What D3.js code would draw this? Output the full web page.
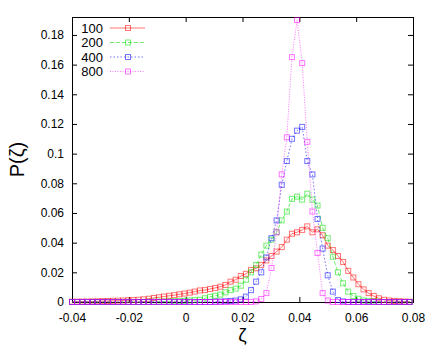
<!DOCTYPE html>
<html>
<head>
<meta charset="utf-8">
<script src="https://cdn.jsdelivr.net/npm/d3@7"></script>
<style>
   body { margin: 0; background: #fff; }
   text { font-family: "Liberation Sans", Arial, sans-serif; fill: #000; }
</style>
</head>
<body>
<div id="chart"></div>
<script>

// BIN CENTRES (ZETA)
var zeta = [
   -0.04, -0.0382, -0.0364, -0.0346, -0.0328, -0.031, -0.0292, -0.0274, -0.0256, -0.0238,
   -0.022, -0.0202, -0.0184, -0.0166, -0.0148, -0.013, -0.0112, -0.0094, -0.0076, -0.0058,
   -0.004, -0.0022, -0.0004, 0.0014, 0.0032, 0.005, 0.0068, 0.0086, 0.0104, 0.0122,
   0.014, 0.0158, 0.0176, 0.0194, 0.0212, 0.023, 0.0248, 0.0266, 0.0284, 0.0302,
   0.032, 0.0338, 0.0356, 0.0374, 0.0392, 0.041, 0.0428, 0.0446, 0.0464, 0.0482,
   0.05, 0.0518, 0.0536, 0.0554, 0.0572, 0.059, 0.0608, 0.0626, 0.0644, 0.0662,
   0.068, 0.0698, 0.0716, 0.0734, 0.0752, 0.077, 0.0788
];

// P(ZETA) FOR EACH SIZE
var p100 = [
   0.0002, 0.0002, 0.0003, 0.0003, 0.0004, 0.0005, 0.0006, 0.0007, 0.0008, 0.0009,
   0.001, 0.0012, 0.0013, 0.0015, 0.0018, 0.0022, 0.0027, 0.0032, 0.0037, 0.0042,
   0.0046, 0.0052, 0.0057, 0.0063, 0.007, 0.0078, 0.008, 0.0088, 0.0095, 0.0103,
   0.0115, 0.0137, 0.015, 0.0175, 0.019, 0.0216, 0.0227, 0.025, 0.028, 0.031,
   0.034, 0.037, 0.042, 0.046, 0.047, 0.0486, 0.051, 0.047, 0.049, 0.045,
   0.038, 0.035, 0.031, 0.027, 0.021, 0.0165, 0.012, 0.0085, 0.006, 0.004,
   0.0025, 0.0015, 0.001, 0.0007, 0.0005, 0.0003, 0.0002
];
var p200 = [
   0, 0, 0, 0, 0, 0, 0, 0, 0, 0,
   0, 0, 0, 0, 0, 0.0002, 0.0002, 0.0003, 0.0003, 0.0004,
   0.0005, 0.0006, 0.0008, 0.001, 0.0012, 0.0015, 0.0025, 0.0035, 0.0042, 0.005,
   0.0065, 0.008, 0.009, 0.011, 0.015, 0.02, 0.025, 0.032, 0.038, 0.042,
   0.047, 0.055, 0.061, 0.0695, 0.071, 0.069, 0.073, 0.069, 0.065, 0.05,
   0.043, 0.0305, 0.02, 0.0126, 0.007, 0.004, 0.0022, 0.001, 0.0006, 0.0004,
   0.0002, 0, 0, 0, 0, 0, 0
];
var p400 = [
   0, 0, 0, 0, 0, 0, 0, 0, 0, 0,
   0, 0, 0, 0, 0, 0, 0, 0, 0, 0,
   0, 0, 0, 0, 0, 0, 0, 0, 0.0002, 0.0003,
   0.0005, 0.0007, 0.001, 0.0018, 0.0036, 0.008, 0.0137, 0.02, 0.03, 0.043,
   0.055, 0.079, 0.095, 0.11, 0.1155, 0.118, 0.095, 0.086, 0.056, 0.036,
   0.018, 0.007, 0.0013, 0.0004, 0, 0, 0, 0, 0, 0,
   0, 0, 0, 0, 0, 0, 0
];
var p800 = [
   0, 0, 0, 0, 0, 0, 0, 0, 0, 0,
   0, 0, 0, 0, 0, 0, 0, 0, 0, 0,
   0, 0, 0, 0, 0, 0, 0, 0, 0, 0,
   0, 0, 0, 0, 0, 0, 0.0004, 0.002, 0.006, 0.023,
   0.047, 0.086, 0.111, 0.165, 0.19, 0.161, 0.108, 0.061, 0.033, 0.006,
   0.001, 0, 0, 0, 0, 0, 0, 0, 0, 0,
   0, 0, 0, 0, 0, 0, 0
];

// LEGEND NAMES AND TICKS
var sizes = ['100', '200', '400', '800'];
var xTicks = [-0.04, -0.02, 0, 0.02, 0.04, 0.06, 0.08];
var xTickLabels = ['-0.04', '-0.02', '0', '0.02', '0.04', '0.06', '0.08'];
var yTicks = [0, 0.02, 0.04, 0.06, 0.08, 0.1, 0.12, 0.14, 0.16, 0.18];
var yTickLabels = ['0', '0.02', '0.04', '0.06', '0.08', '0.1', '0.12', '0.14', '0.16', '0.18'];

var settings = {
   width: 436,
   height: 346,
   left: 72, right: 413, top: 17, bottom: 302,
   xDomain: [-0.04, 0.08],
   yDomain: [0, 0.1921],
   colors: ['#ff0000', '#00e000', '#0000ff', '#ff00ff'],
   dash: ['none', '4,2', '1.5,2', '1,1.5'],
   opacity: 0.55,
   box: 5
};

// BUILD SERIES
var values = [p100, p200, p400, p800];
var series = sizes.map((name, i) => {
   return { name: name, color: settings.colors[i], dash: settings.dash[i],
            points: zeta.map((z, j) => { return [z, values[i][j]] }) };
});

// SCALES
var xScale = d3.scaleLinear().domain(settings.xDomain).range([settings.left, settings.right]);
var yScale = d3.scaleLinear().domain(settings.yDomain).range([settings.bottom, settings.top]);

// CANVAS
var canvas = d3.select('#chart').append('svg')
   .attr('width', settings.width)
   .attr('height', settings.height)
   .style('background', '#fff')

// AXES (TICKS POINT INWARD, MIRRORED ON TOP AND RIGHT)
canvas.append('g')
   .attr('transform', 'translate(' + settings.left + ',0)')
   .call(d3.axisLeft(yScale).tickValues(yTicks).tickSizeInner(-5).tickSizeOuter(0).tickPadding(8)
      .tickFormat((d, i) => yTickLabels[i]))
   .call(g => g.select('.domain').remove())
   .selectAll('text').style('font-size', '12px')

canvas.append('g')
   .attr('transform', 'translate(' + settings.right + ',0)')
   .call(d3.axisRight(yScale).tickValues(yTicks).tickSizeInner(-5).tickSizeOuter(0).tickFormat(''))
   .call(g => g.select('.domain').remove())

canvas.append('g')
   .attr('transform', 'translate(0,' + settings.bottom + ')')
   .call(d3.axisBottom(xScale).tickValues(xTicks).tickSizeInner(-5).tickSizeOuter(0).tickPadding(11)
      .tickFormat((d, i) => xTickLabels[i]))
   .call(g => g.select('.domain').remove())
   .selectAll('text').style('font-size', '12px')

canvas.append('g')
   .attr('transform', 'translate(0,' + settings.top + ')')
   .call(d3.axisTop(xScale).tickValues(xTicks).tickSizeInner(-5).tickSizeOuter(0).tickFormat(''))
   .call(g => g.select('.domain').remove())

canvas.selectAll('.tick line').attr('stroke', '#000')

// FRAME
canvas.append('rect')
   .attr('x', settings.left + 0.5)
   .attr('y', settings.top + 0.5)
   .attr('width', settings.right - settings.left)
   .attr('height', settings.bottom - settings.top)
   .attr('fill', 'none')
   .attr('stroke', '#000')

// AXIS LABELS
canvas.append('text')
   .attr('x', (settings.left + settings.right) / 2)
   .attr('y', 341)
   .attr('text-anchor', 'middle')
   .style('font-size', '19px')
   .text('ζ')

canvas.append('text')
   .attr('transform', 'translate(24,' + ((settings.top + settings.bottom) / 2) + ') rotate(-90)')
   .attr('text-anchor', 'middle')
   .style('font-size', '20px')
   .text('P(ζ)')

// LINES AND MARKERS
var pathify = d3.line()
   .x(d => xScale(d[0]))
   .y(d => yScale(d[1]))

var plot = canvas.append('g')

series.forEach(s => {
   plot.append('path')
      .attr('d', pathify(s.points))
      .attr('fill', 'none')
      .attr('stroke', s.color)
      .attr('stroke-opacity', settings.opacity)
      .attr('stroke-dasharray', s.dash)
      .attr('stroke-width', 1)

   plot.selectAll(null)
      .data(s.points)
      .enter().append('rect')
         .attr('x', d => xScale(d[0]) - settings.box / 2)
         .attr('y', d => yScale(d[1]) - settings.box / 2)
         .attr('width', settings.box)
         .attr('height', settings.box)
         .attr('fill', 'none')
         .attr('stroke', s.color)
         .attr('stroke-opacity', settings.opacity)
});

// LEGEND
var legend = canvas.append('g')

series.forEach((s, i) => {
   var y = 28 + i * 14.5;

   legend.append('text')
      .attr('x', 103)
      .attr('y', y)
      .attr('dy', '0.35em')
      .attr('text-anchor', 'end')
      .style('font-size', '13px')
      .text(s.name)

   legend.append('line')
      .attr('x1', 110).attr('x2', 145)
      .attr('y1', y).attr('y2', y)
      .attr('stroke', s.color)
      .attr('stroke-opacity', settings.opacity)
      .attr('stroke-dasharray', s.dash)

   legend.append('rect')
      .attr('x', 128 - settings.box / 2)
      .attr('y', y - settings.box / 2)
      .attr('width', settings.box)
      .attr('height', settings.box)
      .attr('fill', 'none')
      .attr('stroke', s.color)
      .attr('stroke-opacity', settings.opacity)
});

</script>
</body>
</html>
